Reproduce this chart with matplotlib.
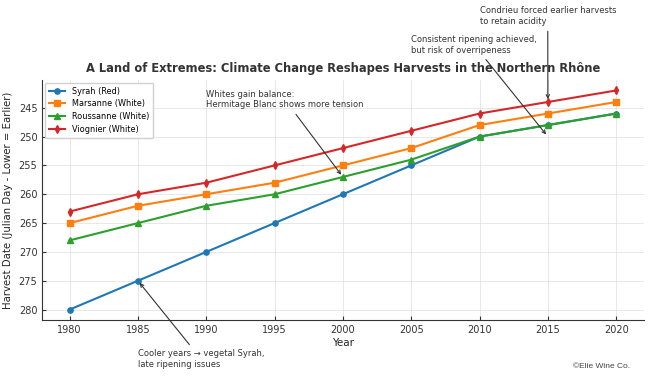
import matplotlib
matplotlib.use("Agg")
import matplotlib.pyplot as plt

years = [1980, 1985, 1990, 1995, 2000, 2005, 2010, 2015, 2020]
syrah = [280, 275, 270, 265, 260, 255, 250, 248, 246]
marsanne = [265, 262, 260, 258, 255, 252, 248, 246, 244]
roussanne = [268, 265, 262, 260, 257, 254, 250, 248, 246]
viognier = [263, 260, 258, 255, 252, 249, 246, 244, 242]

series = [
    ("Syrah (Red)", syrah, "#1f77b4", "o"),
    ("Marsanne (White)", marsanne, "#ff7f0e", "s"),
    ("Roussanne (White)", roussanne, "#2ca02c", "^"),
    ("Viognier (White)", viognier, "#d62728", "d"),
]

fig = plt.figure(figsize=(6.5, 3.76), dpi=100)
ax = fig.add_axes([0.065, 0.149, 0.925, 0.638])

for label, vals, color, marker in series:
    ax.plot(years, vals, color=color, marker=marker, markersize=3.8,
            linewidth=1.5, label=label)

ax.set_ylim(281.8, 240.2)
ax.set_xlim(1978, 2022)
ax.set_xticks(years)
ax.set_yticks([245, 250, 255, 260, 265, 270, 275, 280])
ax.tick_params(labelsize=7, direction="in", length=3, colors="#333333")
ax.set_xlabel("Year", fontsize=7.5, color="#222222", labelpad=2)
ax.set_ylabel("Harvest Date (Julian Day - Lower = Earlier)", fontsize=7.3,
              color="#222222", labelpad=4)
ax.set_title("A Land of Extremes: Climate Change Reshapes Harvests in the Northern Rhône",
             fontsize=8.3, fontweight="bold", color="#333333", pad=6)
ax.spines["top"].set_visible(False)
ax.spines["right"].set_visible(False)
ax.spines["left"].set_color("#333333")
ax.spines["bottom"].set_color("#333333")
ax.grid(True, color="#dddddd", linewidth=0.6, alpha=0.8)
ax.legend(loc="upper left", fontsize=5.9, framealpha=0.9, handlelength=2.0,
          borderpad=0.5, labelspacing=0.45, borderaxespad=0.3)

arrow = dict(arrowstyle="->", color="#333333", lw=0.8)
note_kw = dict(fontsize=6, color="#333333", arrowprops=arrow,
               annotation_clip=False)
ax.annotate("Cooler years → vegetal Syrah,\nlate ripening issues",
            xy=(1985, 275), xytext=(1985, 288.6), va="center", ha="left", **note_kw)
ax.annotate("Whites gain balance:\nHermitage Blanc shows more tension",
            xy=(2000, 257), xytext=(1990, 243.6), va="center", ha="left", **note_kw)
ax.annotate("Consistent ripening achieved,\nbut risk of overripeness",
            xy=(2015, 250), xytext=(2005, 234.1), va="center", ha="left", **note_kw)
ax.annotate("Condrieu forced earlier harvests\nto retain acidity",
            xy=(2015, 244), xytext=(2010, 229.1), va="center", ha="left", **note_kw)

fig.text(0.969, 0.015, "©Elie Wine Co.", fontsize=6, color="#444444",
         ha="right", va="bottom", family="Liberation Sans")

fig.savefig("out.png", dpi=100)
